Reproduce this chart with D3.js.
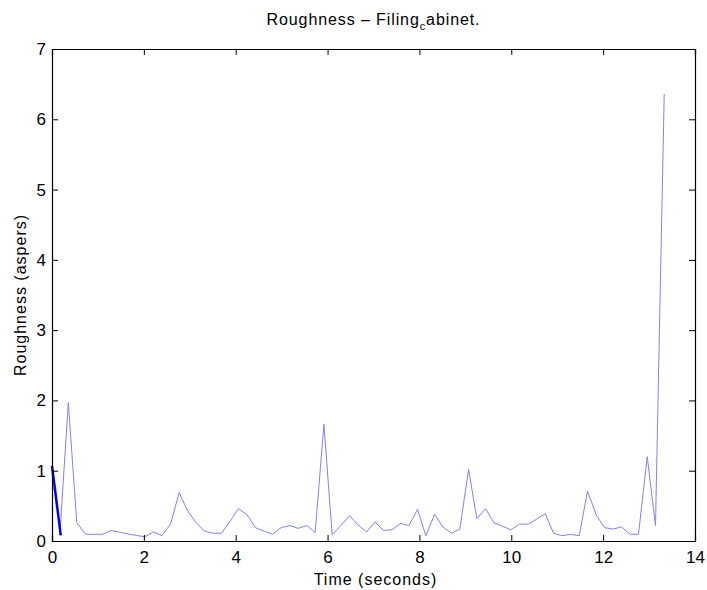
<!DOCTYPE html>
<html><head><meta charset="utf-8">
<script src="https://cdn.jsdelivr.net/npm/d3@7"></script>
<style>body{margin:0;background:#fff;} text{font-family:"Liberation Sans",Arial,sans-serif;fill:#000;}</style>
</head><body><svg id="c" width="707" height="590"></svg>
<script>
const times = [0.17,0.355,0.54,0.73,0.91,1.10,1.28,1.47,1.65,1.84,2.02,2.21,2.39,2.58,2.77,2.95,3.14,3.32,3.51,3.69,3.88,4.06,4.25,4.43,4.62,4.80,4.99,5.18,5.36,5.55,5.73,5.92,6.10,6.29,6.48,6.66,6.85,7.03,7.22,7.40,7.59,7.77,7.96,8.14,8.33,8.51,8.70,8.88,9.07,9.25,9.44,9.62,9.81,9.99,10.18,10.37,10.55,10.74,10.92,11.11,11.29,11.48,11.66,11.85,12.03,12.22,12.40,12.59,12.77,12.96,13.14,13.33];
const roughness = [0.085,1.97,0.26,0.095,0.095,0.095,0.15,0.125,0.10,0.08,0.06,0.13,0.075,0.24,0.69,0.43,0.26,0.14,0.11,0.11,0.28,0.46,0.37,0.19,0.14,0.095,0.19,0.22,0.18,0.22,0.12,1.66,0.09,0.22,0.36,0.23,0.13,0.27,0.15,0.16,0.25,0.22,0.45,0.075,0.38,0.20,0.11,0.17,1.02,0.32,0.46,0.26,0.21,0.16,0.24,0.24,0.31,0.39,0.11,0.075,0.095,0.075,0.71,0.37,0.19,0.17,0.20,0.095,0.095,1.20,0.22,6.36];
const startTimes = [0.0, 0.19];
const startValues = [1.07, 0.08];
const xTicks = [0,2,4,6,8,10,12,14];
const yTicks = [0,1,2,3,4,5,6,7];

const svg = d3.select("#c");
const L=52,R=695,T=49,B=541;
const x = d3.scaleLinear().domain([0,14]).range([L,R]);
const y = d3.scaleLinear().domain([0,7]).range([B,T]);

const line = d3.line().x(d=>x(d[0])).y(d=>y(d[1]));
svg.append("path").datum(times.map((t,i)=>[t,roughness[i]]))
  .attr("d",line).attr("fill","none").attr("stroke","#8080ff").attr("stroke-width",1);
svg.append("path").datum(startTimes.map((t,i)=>[t,startValues[i]]))
  .attr("d",line).attr("fill","none").attr("stroke","#0000ff").attr("stroke-width",2.5);

const tk=6;
const gB = svg.append("g").attr("transform",`translate(0,${B})`)
  .call(d3.axisBottom(x).tickValues(xTicks).tickSize(-tk).tickPadding(10).tickFormat(d3.format("d")));
const gT = svg.append("g").attr("transform",`translate(0,${T})`)
  .call(d3.axisTop(x).tickValues(xTicks).tickSize(-tk).tickFormat(""));
const gL = svg.append("g").attr("transform",`translate(${L},0)`)
  .call(d3.axisLeft(y).tickValues(yTicks).tickSize(-tk).tickPadding(6).tickFormat(d3.format("d")));
const gR = svg.append("g").attr("transform",`translate(${R},0)`)
  .call(d3.axisRight(y).tickValues(yTicks).tickSize(-tk).tickFormat(""));
[gB,gT,gL,gR].forEach(g=>{
  g.select(".domain").attr("stroke","#000").attr("stroke-width",1.2);
  g.selectAll(".tick line").attr("stroke","#000");
  g.selectAll(".tick text").attr("font-size",17).attr("fill","#000").style("font-family","Liberation Sans, Arial, sans-serif");
});

const title = svg.append("text").attr("x",(L+R)/2).attr("y",25).attr("text-anchor","middle").attr("font-size",16).attr("letter-spacing",0.9);
title.append("tspan").text("Roughness – Filing");
title.append("tspan").attr("font-size",11).attr("dy",5).text("c");
title.append("tspan").attr("dy",-5).text("abinet.");

svg.append("text").attr("x",(L+R)/2+2).attr("y",585).attr("text-anchor","middle").attr("font-size",16).attr("letter-spacing",1).text("Time (seconds)");
svg.append("text").attr("transform",`translate(26,${(T+B)/2}) rotate(-90)`).attr("text-anchor","middle").attr("font-size",16).attr("letter-spacing",1).text("Roughness (aspers)");
</script></body></html>
